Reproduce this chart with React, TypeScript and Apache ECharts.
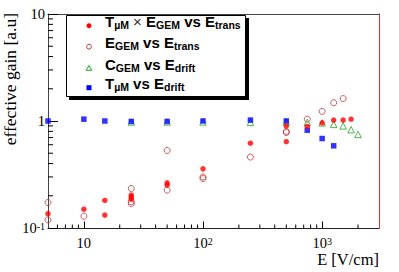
import React, { useEffect, useRef } from "react";
import * as echarts from "echarts";

// T_µM x E_GEM vs E_trans (filled red circles)
const prodX = [5, 10, 15, 15, 25, 25, 25, 50, 50, 100, 250, 500, 500, 750, 1000, 1250, 1500, 1750];
const prodY = [0.136, 0.15, 0.181, 0.132, 0.203, 0.195, 0.186, 0.264, 0.252, 0.357, 0.62, 0.64, 0.9, 0.89, 0.96, 1.02, 1.02, 1.04];

// E_GEM vs E_trans (open red circles)
const gemX = [5, 5, 10, 25, 25, 25, 50, 50, 100, 100, 250, 500, 500, 750, 1000, 1250, 1500];
const gemY = [0.173, 0.119, 0.129, 0.234, 0.176, 0.169, 0.53, 0.226, 0.3, 0.29, 0.46, 0.8, 0.78, 1.04, 1.23, 1.48, 1.62];

// C_GEM vs E_drift (open green triangles)
const cgemX = [25, 50, 100, 250, 500, 750, 1000, 1250, 1500, 1750, 2000];
const cgemY = [0.98, 0.98, 0.98, 0.97, 0.98, 0.97, 0.96, 0.93, 0.9, 0.83, 0.75];

// T_µM vs E_drift (blue squares)
const tumX = [5, 10, 15, 25, 50, 100, 250, 500, 750, 1000, 1250];
const tumY = [1.0, 1.04, 1.0, 0.99, 0.99, 1.0, 1.02, 1.0, 0.82, 0.686, 0.586];

const xMin = 5;
const xMax = 3000;
const yMin = 0.1;
const yMax = 10;

const seriesKeys = ["prod", "gem", "cgem", "tum"];
const legendTexts = [
  "{m|T}{s|µM}{x| × }{m|E}{s|GEM}{m| vs E}{s|trans}",
  "{m|E}{s|GEM}{m| vs E}{s|trans}",
  "{m|C}{s|GEM}{m| vs E}{s|drift}",
  "{m|T}{s|µM}{m| vs E}{s|drift}",
];

const yTitle = "effective gain [a.u]";
const xTitle = "E [V/cm]";

const RED = "#ff0000";
const OPEN_RED = "#bb3333";
const GREEN = "#22aa22";
const BLUE = "#0000ff";

const pairs = (xs: number[], ys: number[]) => xs.map((x, i) => [x, ys[i]]);

const powLabel = (v: number) => {
  const l = Math.log10(v);
  const e = Math.round(l);
  if (Math.abs(l - e) > 1e-6) return "";
  if (e === 0) return "{m|1}";
  if (e === 1) return "{m|10}";
  return "{m|10}{p|" + e + "}";
};

const axisRich = {
  m: { fontFamily: "Liberation Serif", fontSize: 14.5, lineHeight: 14, color: "#000" },
  p: { fontFamily: "Liberation Serif", fontSize: 10, lineHeight: 6, verticalAlign: "top", color: "#000" },
};

const legendRich = {
  m: { fontFamily: "Liberation Sans", fontWeight: "bold", fontSize: 15, lineHeight: 15, verticalAlign: "top", fill: "#000", color: "#000" },
  x: { fontFamily: "Liberation Sans", fontWeight: "normal", fontSize: 15, lineHeight: 15, verticalAlign: "top", fill: "#333", color: "#333" },
  s: { fontFamily: "Liberation Sans", fontWeight: "bold", fontSize: 10.5, lineHeight: 10, verticalAlign: "top", padding: [5.5, 0, 0, 0], fill: "#000", color: "#000" },
};

export default function App() {
  const ref = useRef<HTMLDivElement>(null);
  useEffect(() => {
    const chart = echarts.init(ref.current!, null, { renderer: "svg" });
    const option: any = {
      animation: false,
      backgroundColor: "#fff",
      grid: { left: 48, right: 20, top: 14, bottom: 44, show: false },
      xAxis: [
        {
          type: "log",
          logBase: 10,
          min: xMin,
          max: xMax,
          position: "bottom",
          axisLine: { show: true, lineStyle: { color: "#222", width: 1 } },
          axisTick: { show: true, inside: true, length: 6.5, lineStyle: { color: "#000", width: 1 } },
          axisLabel: { show: true, margin: 8, formatter: powLabel, rich: axisRich, showMinLabel: false, showMaxLabel: false },
          splitLine: { show: false },
        },
        {
          type: "log",
          logBase: 10,
          min: xMin,
          max: xMax,
          position: "top",
          axisLine: { show: true, lineStyle: { color: "#444", width: 1 } },
          axisTick: { show: false },
          axisLabel: { show: false },
          splitLine: { show: false },
        },
      ],
      yAxis: [
        {
          type: "log",
          logBase: 10,
          min: yMin,
          max: yMax,
          position: "left",
          axisLine: { show: true, lineStyle: { color: "#444", width: 1 } },
          axisTick: { show: true, inside: true, length: 10, lineStyle: { color: "#000", width: 1 } },
          axisLabel: { show: true, margin: 3, formatter: powLabel, rich: axisRich },
          splitLine: { show: false },
        },
        {
          type: "log",
          logBase: 10,
          min: yMin,
          max: yMax,
          position: "right",
          axisLine: { show: true, lineStyle: { color: "#cc3333", width: 1 } },
          axisTick: { show: false },
          axisLabel: { show: false },
          splitLine: { show: false },
        },
      ],
      series: [
        {
          name: seriesKeys[2],
          type: "scatter",
          symbol: "triangle",
          symbolSize: 6.5,
          itemStyle: { color: "rgba(0,0,0,0)", borderColor: GREEN, borderWidth: 1 },
          data: pairs(cgemX, cgemY),
        },
        {
          name: seriesKeys[3],
          type: "scatter",
          symbol: "rect",
          symbolSize: 5.5,
          itemStyle: { color: BLUE },
          data: pairs(tumX, tumY),
        },
        {
          name: seriesKeys[1],
          type: "scatter",
          symbol: "circle",
          symbolSize: 6,
          itemStyle: { color: "rgba(0,0,0,0)", borderColor: OPEN_RED, borderWidth: 1 },
          data: pairs(gemX, gemY),
        },
        {
          name: seriesKeys[0],
          type: "scatter",
          symbol: "circle",
          symbolSize: 5.5,
          itemStyle: { color: RED },
          data: pairs(prodX, prodY),
        },
      ],
    };
    chart.setOption(option);

    // legend (ROOT-style box with hard shadow)
    const rowY = [25.7, 46.7, 68.3, 87.7];
    const iconX = 89;
    const textX = 105;
    const els: any[] = [
      { type: "rect", z: 5, silent: true, shape: { x: 69, y: 18, width: 180, height: 82 }, style: { fill: "#000" } },
      { type: "rect", z: 6, silent: true, shape: { x: 66.5, y: 15.5, width: 179, height: 81 }, style: { fill: "#fff", stroke: "#000", lineWidth: 1 } },
      { type: "circle", z: 7, silent: true, shape: { cx: iconX, cy: rowY[0], r: 2.5 }, style: { fill: RED } },
      { type: "circle", z: 7, silent: true, shape: { cx: iconX, cy: rowY[1], r: 2.4 }, style: { fill: "none", stroke: OPEN_RED, lineWidth: 1 } },
      {
        type: "polygon",
        z: 7,
        silent: true,
        shape: { points: [[iconX, rowY[2] - 2.8], [iconX - 2.8, rowY[2] + 2], [iconX + 2.8, rowY[2] + 2]] },
        style: { fill: "none", stroke: GREEN, lineWidth: 1 },
      },
      { type: "rect", z: 7, silent: true, shape: { x: iconX - 2.5, y: rowY[3] - 2.5, width: 5, height: 5 }, style: { fill: BLUE } },
      {
        type: "text",
        x: 10,
        y: 13,
        rotation: Math.PI / 2,
        silent: true,
        style: { text: yTitle, font: '17.5px "Liberation Serif"', fill: "#000", align: "right", verticalAlign: "middle", textAlign: "right", textVerticalAlign: "middle" },
      },
      {
        type: "text",
        x: 379,
        y: 259.5,
        silent: true,
        style: { text: xTitle, font: '16.5px "Liberation Serif"', fill: "#000", align: "right", verticalAlign: "middle", textAlign: "right", textVerticalAlign: "middle" },
      },
    ];
    legendTexts.forEach((t, i) => {
      els.push({
        type: "text",
        z: 7,
        silent: true,
        x: textX,
        y: rowY[i] - 4.3,
        style: { text: t, rich: legendRich, fill: "#000", align: "left", verticalAlign: "middle", textAlign: "left", textVerticalAlign: "middle" },
      });
    });

    const yBase = chart.convertToPixel({ yAxisIndex: 0 }, yMin) as number;
    const xBase = chart.convertToPixel({ xAxisIndex: 0 }, xMin) as number;
    for (const d of [1, 10, 100, 1000]) {
      for (let m = 2; m <= 9; m++) {
        const v = m * d;
        if (v > xMin && v < xMax) {
          const px = chart.convertToPixel({ xAxisIndex: 0 }, v) as number;
          els.push({ type: "line", silent: true, z: 3, shape: { x1: px, y1: yBase, x2: px, y2: yBase - 3.5 }, style: { stroke: "#000", lineWidth: 1 } });
        }
      }
    }
    for (const d of [0.1, 1]) {
      for (let m = 2; m <= 9; m++) {
        const v = m * d;
        if (v > yMin && v < yMax) {
          const py = chart.convertToPixel({ yAxisIndex: 0 }, v) as number;
          els.push({ type: "line", silent: true, z: 3, shape: { x1: xBase, y1: py, x2: xBase + 5, y2: py }, style: { stroke: "#000", lineWidth: 1 } });
        }
      }
    }
    chart.setOption({ graphic: { elements: els } });
    return () => chart.dispose();
  }, []);
  return <div ref={ref} style={{ position: "fixed", left: 0, top: 0, width: 399, height: 272 }} />;
}
